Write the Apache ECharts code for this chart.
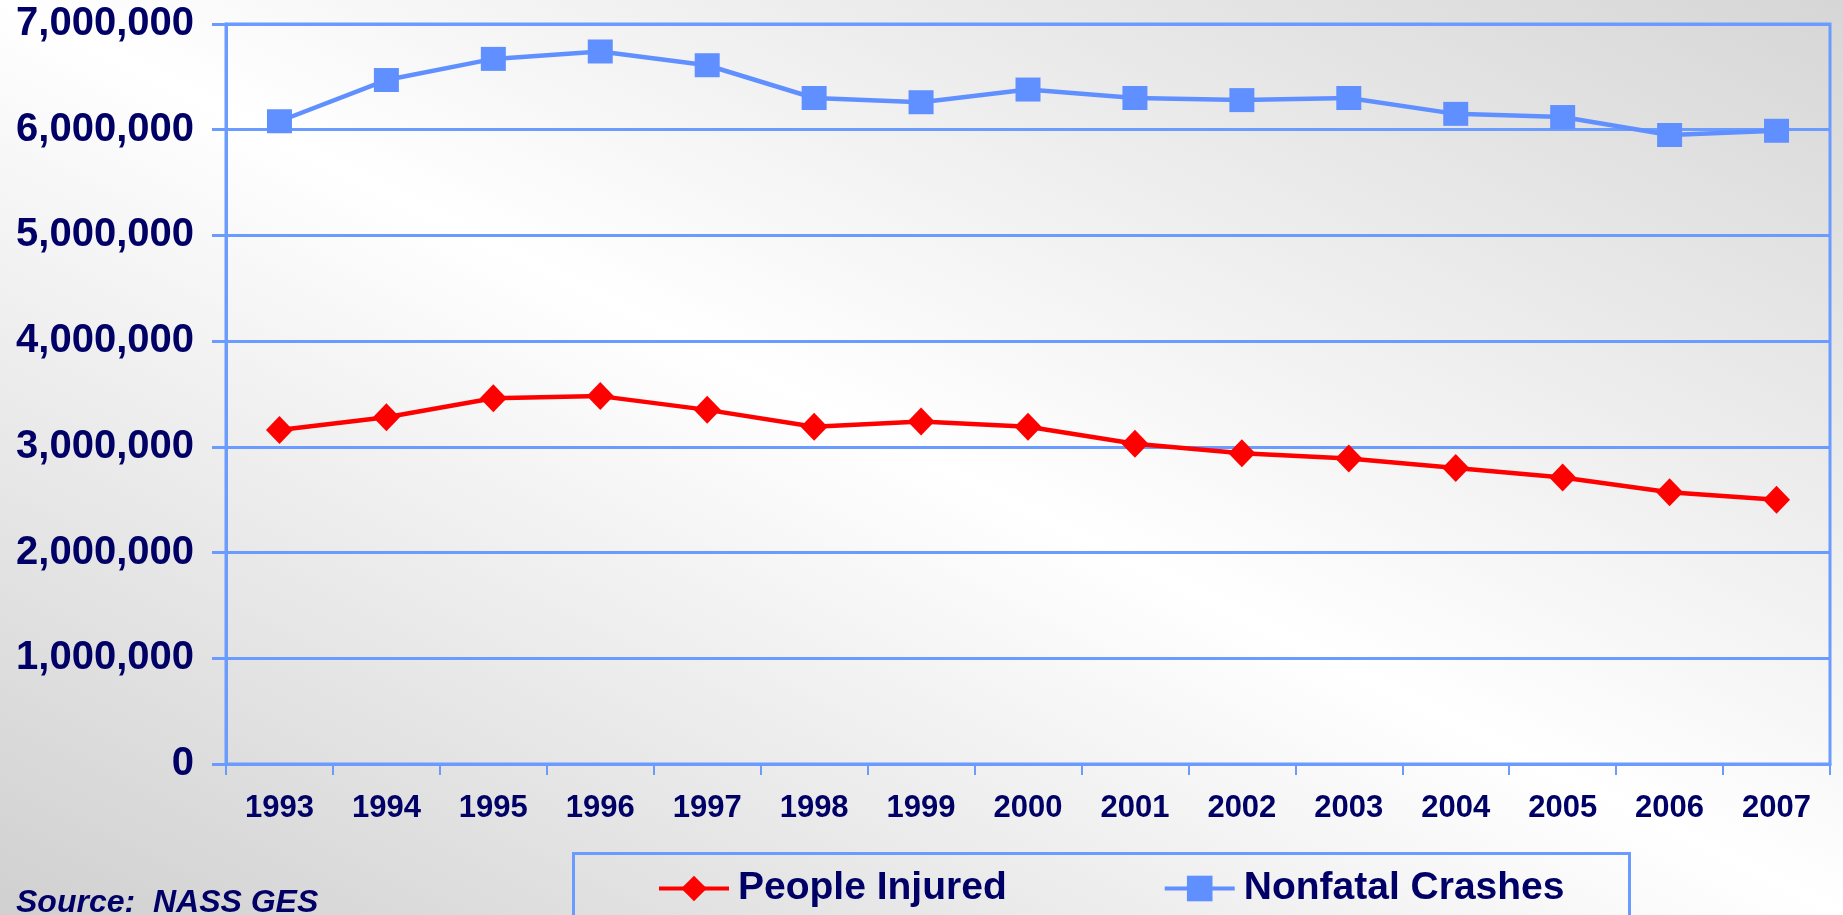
<!DOCTYPE html>
<html>
<head>
<meta charset="utf-8">
<title>People Injured and Nonfatal Crashes</title>
<script src="https://cdn.jsdelivr.net/npm/echarts@6/dist/echarts.min.js"></script>
<style>
  html, body {
    margin: 0;
    padding: 0;
  }
  #chart {
    width: 1843px;
    height: 915px;
    background: linear-gradient(to top right, #d0d0d0 0%, #ffffff 50%, #d6d6d6 100%);
  }
</style>
</head>
<body>
<div id="chart"></div>
<script>
// values
const years = ['1993', '1994', '1995', '1996', '1997', '1998', '1999', '2000',
  '2001', '2002', '2003', '2004', '2005', '2006', '2007']
const peopleInjured = [3160000, 3280000, 3460000, 3480000, 3350000, 3190000, 3240000, 3190000,
  3030000, 2940000, 2890000, 2800000, 2710000, 2570000, 2500000]
const nonfatalCrashes = [6080000, 6470000, 6670000, 6740000, 6610000, 6300000, 6260000, 6380000,
  6300000, 6280000, 6300000, 6150000, 6120000, 5950000, 5990000]
const yTicks = [0, 1000000, 2000000, 3000000, 4000000, 5000000, 6000000, 7000000]

const navy = '#000066'
const gridBlue = '#6b9bff'
const font = 'Arial, "Liberation Sans", sans-serif'

const chart = echarts.init(document.getElementById('chart'))

const option = {
  backgroundColor: 'transparent',
  textStyle: { fontFamily: font },
  grid: {
    left: 226,
    right: 13,
    top: 24,
    bottom: 151,
    show: true,
    borderColor: gridBlue,
    borderWidth: 3,
    backgroundColor: 'transparent'
  },
  legend: {
    left: 652,
    top: 864,
    itemWidth: 70,
    itemHeight: 32,
    itemGap: 156,
    data: ['People Injured', 'Nonfatal Crashes'],
    lineStyle: { width: 4 },
    textStyle: {
      color: navy,
      fontSize: 39,
      fontWeight: 'bold',
      fontFamily: font,
      padding: [0, 0, 0, 4]
    }
  },
  xAxis: {
    type: 'category',
    data: years,
    boundaryGap: true,
    axisLine: { lineStyle: { color: gridBlue, width: 3 } },
    axisTick: { show: true, length: 11, lineStyle: { color: gridBlue, width: 2 } },
    axisLabel: {
      color: navy,
      fontSize: 31,
      fontWeight: 'bold',
      fontFamily: font,
      margin: 29
    }
  },
  yAxis: {
    type: 'value',
    min: yTicks[0],
    max: yTicks[yTicks.length - 1],
    interval: yTicks[1] - yTicks[0],
    axisLine: { show: true, lineStyle: { color: gridBlue, width: 3 } },
    axisTick: { show: true, length: 14, lineStyle: { color: gridBlue, width: 3 } },
    splitLine: { lineStyle: { color: gridBlue, width: 3 } },
    axisLabel: {
      color: navy,
      fontSize: 40,
      fontWeight: 'bold',
      fontFamily: font,
      margin: 32,
      formatter: v => v.toLocaleString('en-US')
    }
  },
  series: [
    {
      name: 'People Injured',
      type: 'line',
      data: peopleInjured,
      symbol: 'diamond',
      symbolSize: [27, 28],
      lineStyle: { color: '#ff0000', width: 4.5 },
      itemStyle: { color: '#ff0000' },
      z: 3
    },
    {
      name: 'Nonfatal Crashes',
      type: 'line',
      data: nonfatalCrashes,
      symbol: 'rect',
      symbolSize: [25, 24],
      lineStyle: { color: '#6090ff', width: 4.5 },
      itemStyle: { color: '#6090ff' },
      z: 3
    }
  ],
  graphic: [
    {
      type: 'rect',
      left: 572,
      top: 852,
      shape: { width: 1056, height: 100 },
      style: { fill: 'transparent', stroke: gridBlue, lineWidth: 3 },
      silent: true
    },
    {
      type: 'text',
      left: 16,
      top: 887,
      style: {
        text: 'Source:  NASS GES',
        fill: navy,
        fontSize: 32,
        fontWeight: 'bold',
        fontStyle: 'italic',
        fontFamily: font
      }
    }
  ]
}

chart.setOption(option)
</script>
</body>
</html>
